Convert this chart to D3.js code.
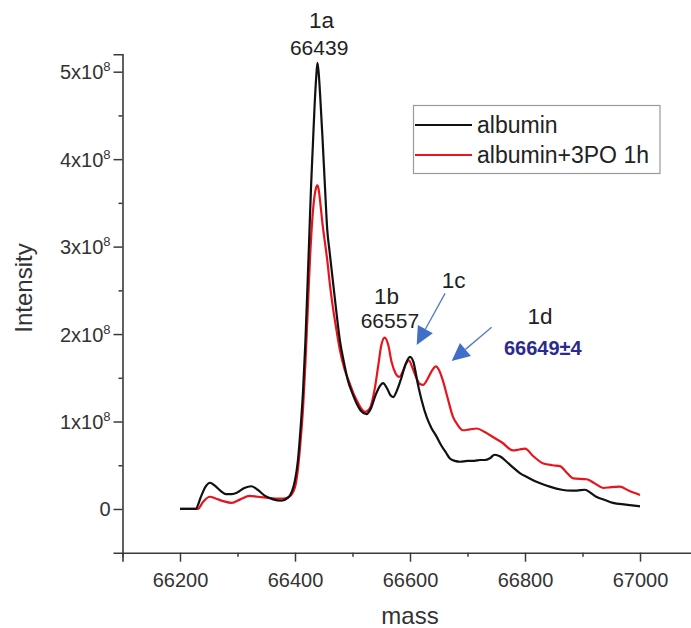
<!DOCTYPE html>
<html><head><meta charset="utf-8">
<script src="https://cdn.jsdelivr.net/npm/d3@7"></script>
<style>body{margin:0;background:#fff}svg{display:block}</style>
</head><body><svg id="chart" width="691" height="628"></svg>
<script>
// ---- data (intensity in units of 1e8) ----
const seriesNames = ["albumin", "albumin+3PO 1h"];
const seriesColors = ["#111111", "#e8141c"];

const albuminMass = [66200,66227,66237,66245,66252,66260,66270,66280,66290,66300,66312,66324,66335,66348,66362,66376,66388,
  66400,66405,66410,66414,66418,66422,66425,66428,66431,66434,66437,66439,66441,66444,66448,66452,66456,66460,66466,66472,66478,66485,66492,66500,66507,66515,66524,
  66532,66540,66547,66553,66560,66566,66571,66577,66585,66592,66600,66606,66613,66620,66629,66637,66646,66655,66663,66669,66678,66687,
  66700,66712,66722,66730,66739,66747,66757,66768,66780,66791,66805,66820,66832,66843,66864,66880,66890,66904,66915,66924,66940,66953,66975,67000];
const albuminIntensity = [0,0,0.15,0.26,0.30,0.27,0.21,0.17,0.17,0.19,0.24,0.26,0.22,0.15,0.11,0.095,0.13,
  0.33,0.55,0.95,1.35,1.9,2.6,3.15,3.7,4.15,4.6,4.95,5.1,5.0,4.7,4.22,3.7,3.2,2.95,2.6,2.25,1.93,1.68,1.47,1.32,1.21,1.12,1.085,
  1.15,1.3,1.4,1.44,1.38,1.3,1.28,1.35,1.5,1.65,1.74,1.68,1.45,1.25,1.05,0.93,0.83,0.72,0.64,0.58,0.55,0.54,
  0.55,0.55,0.56,0.56,0.58,0.62,0.6,0.54,0.47,0.41,0.36,0.31,0.28,0.255,0.22,0.21,0.21,0.22,0.18,0.14,0.1,0.07,0.05,0.03];

const treatedMass = [66200,66231,66240,66252,66262,66275,66290,66305,66321,66335,66350,66365,66380,66390,
  66400,66405,66410,66414,66418,66422,66426,66430,66434,66437,66439,66441,66444,66448,66452,66456,66461,66466,66472,66478,66486,66495,66503,66510,66516,66522,
  66530,66538,66545,66550,66556,66562,66568,66575,66581,66588,66593,66598,66604,66611,66617,66623,66630,66638,66645,66651,66658,66665,66675,66682,66692,
  66704,66716,66730,66745,66760,66779,66790,66800,66815,66832,66848,66861,66872,66884,66907,66922,66936,66950,66965,66980,67000];
const treatedIntensity = [0,0,0.08,0.14,0.12,0.09,0.07,0.11,0.15,0.14,0.13,0.12,0.12,0.14,
  0.25,0.45,0.8,1.15,1.65,2.25,2.85,3.3,3.58,3.68,3.7,3.66,3.5,3.25,3.05,2.85,2.55,2.3,2.05,1.82,1.6,1.44,1.3,1.21,1.14,1.11,
  1.15,1.35,1.65,1.87,1.96,1.88,1.68,1.55,1.51,1.58,1.66,1.70,1.62,1.50,1.43,1.42,1.48,1.58,1.63,1.58,1.45,1.28,1.05,0.97,0.90,
  0.91,0.92,0.88,0.82,0.76,0.67,0.68,0.69,0.6,0.52,0.50,0.49,0.42,0.35,0.34,0.29,0.24,0.25,0.255,0.21,0.16];

const xTickValues = [66200, 66400, 66600, 66800, 67000];
const xMinorTicks = [66100, 66300, 66500, 66700, 66900];
const yTickValues = [0, 1, 2, 3, 4, 5];
const yMinorTicks = [0.5, 1.5, 2.5, 3.5, 4.5];

const peakNames = ["1a", "1b", "1c", "1d"];
const peakNameMass = [66446, 66559, 66676, 66826];
const peakNameInt = [5.50, 2.344, 2.527, 2.115];
const peakValues = ["66439", "66557", "66649±4"];
const peakValueMass = [66442, 66565, 66831];
const peakValueInt = [5.19, 2.064, 1.76];
const arrowFromMass = [66661, 66742];
const arrowFromInt = [2.466, 2.077];
const arrowToMass = [66611.6, 66672.5];
const arrowToInt = [1.875, 1.692];

// ---- layout ----
const svg = d3.select("#chart");
const x = d3.scaleLinear().domain([66100, 67100]).range([122.5, 697.5]);
const y = d3.scaleLinear().domain([-0.5, 5.2]).range([552.7, 54.2]);
const axisColor = "#3a3a3a";
const tickFont = "'Liberation Sans', Arial, sans-serif";

// x axis
const gx = svg.append("g").attr("transform", `translate(0,${y(-0.5)})`);
gx.call(d3.axisBottom(x).tickValues(xTickValues).tickSize(9).tickPadding(11).tickFormat(d3.format("d")));
const gxm = svg.append("g").attr("transform", `translate(0,${y(-0.5)})`);
gxm.call(d3.axisBottom(x).tickValues(xMinorTicks).tickSize(4).tickFormat(""));
gxm.select(".domain").remove();

// y axis
const gy = svg.append("g").attr("transform", `translate(${x(66100)},0)`);
gy.call(d3.axisLeft(y).tickValues(yTickValues).tickSize(9).tickPadding(3).tickFormat(""));
const gym = svg.append("g").attr("transform", `translate(${x(66100)},0)`);
gym.call(d3.axisLeft(y).tickValues(yMinorTicks).tickSize(4).tickFormat(""));
gym.select(".domain").remove();

[gx, gxm, gy, gym].forEach(g => {
  g.selectAll(".domain").attr("stroke", axisColor).attr("stroke-width", 1.6);
  g.selectAll(".tick line").attr("stroke", axisColor).attr("stroke-width", 1.5);
});
gx.selectAll(".tick text").attr("font-family", tickFont).attr("font-size", 20).attr("fill", "#333");

// y tick labels with superscript
gy.selectAll(".tick").each(function(d) {
  const t = d3.select(this).append("text")
    .attr("x", -12).attr("dy", "0.35em").attr("text-anchor", "end")
    .attr("font-family", tickFont).attr("font-size", 20).attr("fill", "#333");
  if (d === 0) { t.text("0"); }
  else {
    t.append("tspan").text(d + "x10");
    t.append("tspan").attr("font-size", 13).attr("dy", -8).text("8");
  }
});

// axis titles
svg.append("text").attr("x", (x(66100) + 697.5) / 2).attr("y", 624)
  .attr("text-anchor", "middle").attr("font-family", tickFont).attr("font-size", 24).attr("fill", "#333").text("mass");
svg.append("text").attr("transform", `translate(32,288) rotate(-90)`)
  .attr("text-anchor", "middle").attr("font-family", tickFont).attr("font-size", 24).attr("fill", "#333").text("Intensity");

// lines
const line = d3.line().x(d => x(d[0])).y(d => y(d[1])).curve(d3.curveMonotoneX);
const series = [
  d3.zip(albuminMass, albuminIntensity),
  d3.zip(treatedMass, treatedIntensity)
];
svg.append("path").datum(series[1]).attr("d", line).attr("fill", "none")
  .attr("stroke", seriesColors[1]).attr("stroke-width", 2.2).attr("stroke-linejoin", "round");
svg.append("path").datum(series[0]).attr("d", line).attr("fill", "none")
  .attr("stroke", seriesColors[0]).attr("stroke-width", 2.2).attr("stroke-linejoin", "round");

// legend
const lg = svg.append("g");
lg.append("rect").attr("x", 413.5).attr("y", 105.5).attr("width", 246.5).attr("height", 68)
  .attr("fill", "#fff").attr("stroke", "#9a9a9a").attr("stroke-width", 1.2);
seriesNames.forEach((name, i) => {
  const yy = 125 + i * 30;
  lg.append("line").attr("x1", 415).attr("x2", 472).attr("y1", yy).attr("y2", yy)
    .attr("stroke", seriesColors[i]).attr("stroke-width", 2.2);
  lg.append("text").attr("x", 477).attr("y", yy + 8).attr("font-family", tickFont)
    .attr("font-size", 23).attr("fill", "#222").text(name);
});

// annotations
const annFont = "'Liberation Sans', Arial, sans-serif";
peakNames.forEach((n, i) => {
  svg.append("text").attr("x", x(peakNameMass[i])).attr("y", y(peakNameInt[i]))
    .attr("text-anchor", "middle").attr("font-family", annFont).attr("font-size", 22.5).attr("fill", "#222").text(n);
});
peakValues.forEach((v, i) => {
  const last = i === peakValues.length - 1;
  svg.append("text").attr("x", x(peakValueMass[i])).attr("y", y(peakValueInt[i]))
    .attr("text-anchor", "middle").attr("font-family", annFont)
    .attr("font-size", last ? 20 : 21).attr("font-weight", last ? "bold" : "normal")
    .attr("fill", last ? "#2b2b8c" : "#222").text(v);
});
arrowFromMass.forEach((m, i) => {
  const x1 = x(m), y1 = y(arrowFromInt[i]), x2 = x(arrowToMass[i]), y2 = y(arrowToInt[i]);
  const ang = Math.atan2(y2 - y1, x2 - x1);
  const L = 18, W = 8.5;
  const bx = x2 - L * Math.cos(ang), by = y2 - L * Math.sin(ang);
  svg.append("line").attr("x1", x1).attr("y1", y1).attr("x2", bx).attr("y2", by)
    .attr("stroke", "#5a7fc8").attr("stroke-width", 1.4);
  const px = -Math.sin(ang), py = Math.cos(ang);
  svg.append("polygon").attr("points", [
    [x2, y2], [bx + W * px, by + W * py], [bx - W * px, by - W * py]
  ].map(p => p.join(",")).join(" ")).attr("fill", "#3f6fc8");
});
</script></body></html>
